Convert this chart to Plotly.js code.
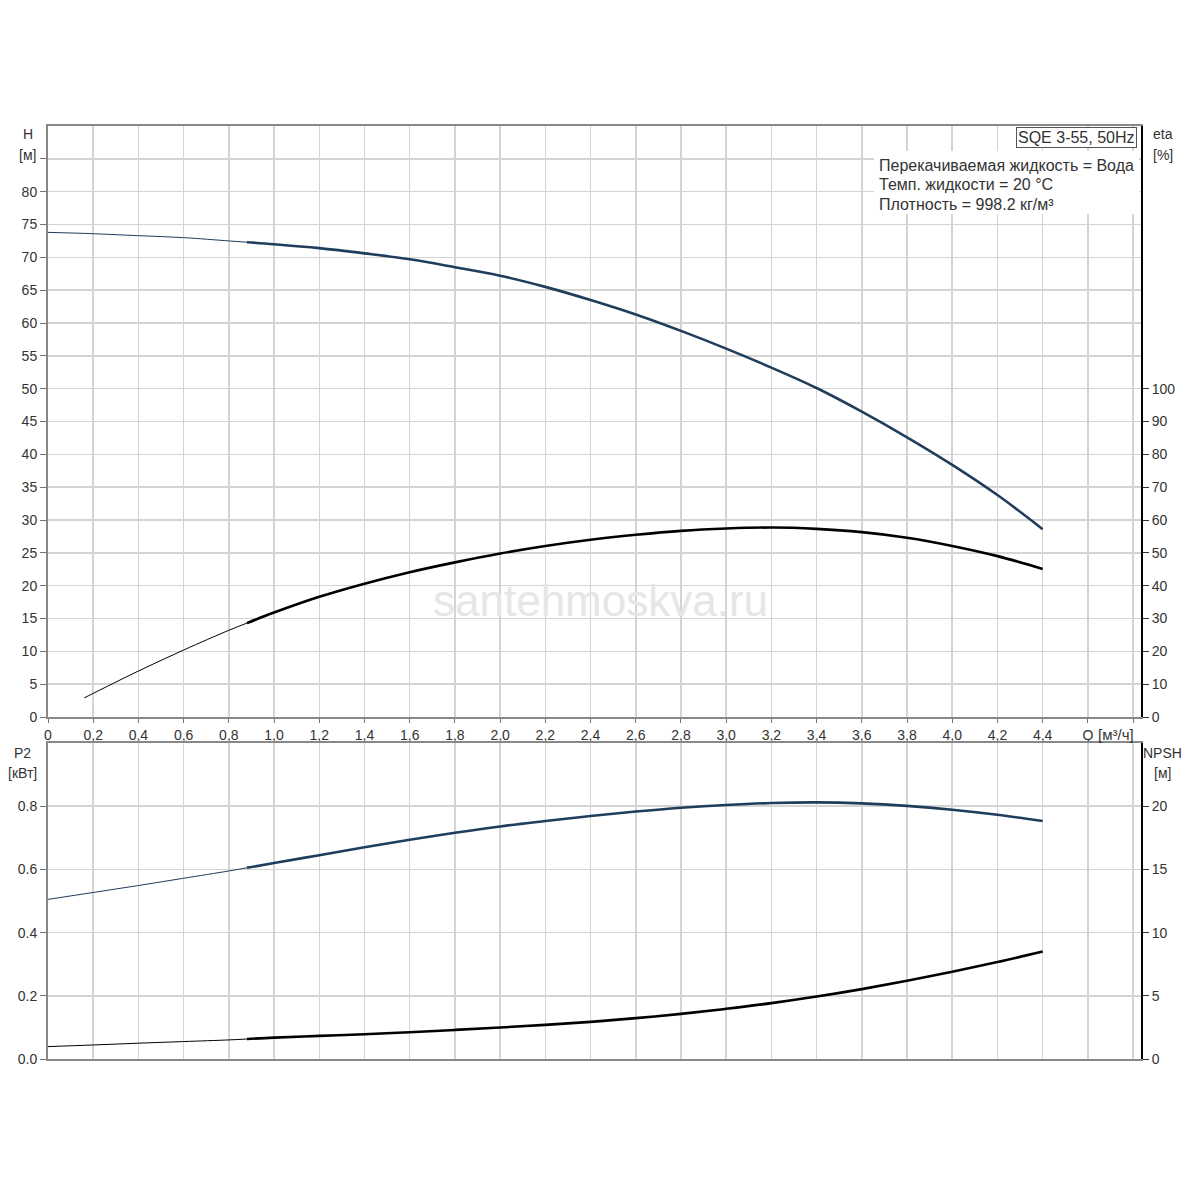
<!DOCTYPE html>
<html>
<head>
<meta charset="utf-8">
<script src="https://cdn.plot.ly/plotly-3.0.1.min.js"></script>
<style>html,body{margin:0;padding:0;background:#fff;}#chart{width:1200px;height:1200px;}</style>
</head>
<body>
<div id="chart"></div>
<script>
// Flow Q [m3/h]
const q = [0, 0.2, 0.4, 0.6, 0.8, 0.88, 1.0, 1.2, 1.4, 1.6, 1.8, 2.0, 2.2, 2.4, 2.6, 2.8, 3.0, 3.2, 3.4, 3.6, 3.8, 4.0, 4.2, 4.4];
// Head H [m]
const headH = [73.8, 73.6, 73.3, 73.0, 72.5, 72.3, 72.0, 71.4, 70.6, 69.7, 68.5, 67.2, 65.5, 63.5, 61.3, 58.8, 56.1, 53.2, 50.1, 46.5, 42.6, 38.4, 33.8, 28.6];
// Efficiency eta [%]
const qEta = [0.16, 0.2, 0.4, 0.6, 0.8, 0.88, 1.0, 1.2, 1.4, 1.6, 1.8, 2.0, 2.2, 2.4, 2.6, 2.8, 3.0, 3.2, 3.4, 3.6, 3.8, 4.0, 4.2, 4.4];
const eta = [5.8, 7.2, 14.0, 20.4, 26.4, 28.6, 31.8, 36.6, 40.6, 44.1, 47.1, 49.8, 52.1, 54.0, 55.5, 56.7, 57.4, 57.7, 57.3, 56.3, 54.6, 52.1, 49.0, 45.1];
// Power P2 [kW]
const p2 = [0.505, 0.527, 0.549, 0.572, 0.595, 0.605, 0.620, 0.645, 0.670, 0.694, 0.716, 0.736, 0.753, 0.769, 0.783, 0.795, 0.804, 0.810, 0.812, 0.809, 0.801, 0.789, 0.773, 0.753];
// NPSH [m]
const npsh = [0.98, 1.11, 1.25, 1.38, 1.51, 1.58, 1.69, 1.83, 1.96, 2.12, 2.30, 2.49, 2.70, 2.94, 3.23, 3.57, 3.97, 4.42, 4.94, 5.53, 6.19, 6.90, 7.67, 8.50];
// Start of the duty (thick) range
const qSplit = 0.88;

// Tick labels
const xTickVals = [0,0.2,0.4,0.6,0.8,1.0,1.2,1.4,1.6,1.8,2.0,2.2,2.4,2.6,2.8,3.0,3.2,3.4,3.6,3.8,4.0,4.2,4.4,4.6,4.8];
const xTickText = ["0","0,2","0,4","0,6","0,8","1,0","1,2","1,4","1,6","1,8","2,0","2,2","2,4","2,6","2,8","3,0","3,2","3,4","3,6","3,8","4,0","4,2","4,4","Q",""];
const xUnit = "[м³/ч]";
const hTickVals = [0,5,10,15,20,25,30,35,40,45,50,55,60,65,70,75,80,85];
const hTickText = ["0","5","10","15","20","25","30","35","40","45","50","55","60","65","70","75","80",""];
const etaTickVals = [0,10,20,30,40,50,60,70,80,90,100];
const p2TickVals = [0,0.2,0.4,0.6,0.8];
const p2TickText = ["0.0","0.2","0.4","0.6","0.8"];
const npshTickVals = [0,5,10,15,20];

const infoTitle = "SQE 3-55, 50Hz";
const infoLines = ["Перекачиваемая жидкость = Вода", "Темп. жидкости = 20 °C", "Плотность = 998.2 кг/м³"];
const watermark = "santehmoskva.ru";

function split(xs, ys) {
  const thin = {x: [], y: []}, thick = {x: [], y: []};
  xs.forEach((v, i) => {
    if (v <= qSplit) { thin.x.push(v); thin.y.push(ys[i]); }
    if (v >= qSplit) { thick.x.push(v); thick.y.push(ys[i]); }
  });
  return [thin, thick];
}

const blue = "#1f3d5c";
const black = "#000000";
function pair(xs, ys, color, xa, ya) {
  const [thin, thick] = split(xs, ys);
  return [
    {x: thin.x, y: thin.y, xaxis: xa, yaxis: ya, mode: "lines", line: {color: color, width: 1, shape: "spline", smoothing: 1}, hoverinfo: "skip"},
    {x: thick.x, y: thick.y, xaxis: xa, yaxis: ya, mode: "lines", line: {color: color, width: 2.6, shape: "spline", smoothing: 1}, hoverinfo: "skip"}
  ];
}

const traces = [].concat(
  pair(q, headH, blue, "x", "y"),
  pair(qEta, eta, black, "x", "y2"),
  pair(q, p2, blue, "x2", "y3"),
  pair(q, npsh, black, "x2", "y4")
);

const L = 48, R = 1141, T = 126, B = 1059;
const px = p => (p - L) / (R - L);
const py = p => (B - p) / (B - T);

const FAM = "Liberation Sans, Arial, sans-serif";
const font = {family: FAM, size: 14, color: "#333"};
const infoFont = {family: FAM, size: 16, color: "#333"};
const gridColor = "#d4d4d4";
const XR = [0, 4.835];

function ann(text, x, y, opts) {
  return Object.assign({text: text, x: px(x), y: py(y), xref: "paper", yref: "paper", showarrow: false, xanchor: "center", yanchor: "middle", font: font}, opts || {});
}

const annotations = [
  ann("H", 28, 134), ann("[м]", 27, 155),
  ann("eta", 1163, 134), ann("[%]", 1163, 155),
  ann("P2", 22, 753), ann("[кВт]", 22, 773),
  ann("NPSH", 1162, 753), ann("[м]", 1162, 773),
  ann(xUnit, 1096, 735, {xanchor: "left", font: {family: FAM, size: 15, color: "#333"}}),
  ann(infoTitle, 1137, 127, {xanchor: "right", yanchor: "top", bgcolor: "#fff", bordercolor: "#555", borderwidth: 1, borderpad: 1, font: infoFont}),
  ann(infoLines[0], 877, 166, {xanchor: "left", font: infoFont}),
  ann(infoLines[1], 877, 185, {xanchor: "left", font: infoFont}),
  ann(infoLines[2], 877, 204, {xanchor: "left", font: infoFont}),
  ann(watermark, 600, 600, {font: {family: FAM, size: 44, color: "#e6e6e6"}})
];

const shapes = [
  {type: "rect", xref: "paper", yref: "paper", x0: px(874), x1: px(1139), y0: py(214), y1: py(151), fillcolor: "#fff", line: {width: 0}, layer: "above"}
];

const layout = {
  width: 1200, height: 1200,
  margin: {l: L, r: 1200 - R, t: T, b: 1200 - B, pad: 0},
  paper_bgcolor: "#fff", plot_bgcolor: "#fff",
  showlegend: false,
  font: font,
  xaxis: {domain: [0, 1], anchor: "y", range: XR, tickmode: "array", tickvals: xTickVals, ticktext: xTickText,
    showgrid: true, gridcolor: gridColor, gridwidth: 1.5, zeroline: false, ticks: "outside", ticklen: 4, tickcolor: "#777",
    showline: true, linecolor: "#888", linewidth: 2, mirror: true, tickfont: font},
  yaxis: {domain: [py(717), 1], anchor: "x", range: [0, 90], tickmode: "array", tickvals: hTickVals, ticktext: hTickText,
    showgrid: true, gridcolor: gridColor, gridwidth: 1.5, zeroline: false, ticks: "outside", ticklen: 6, tickcolor: "#777",
    showline: true, linecolor: "#888", linewidth: 2, tickfont: font},
  yaxis2: {overlaying: "y", side: "right", anchor: "x", range: [0, 180], tickmode: "array", tickvals: etaTickVals,
    showgrid: false, zeroline: false, ticks: "outside", ticklen: 6, tickcolor: "#333",
    showline: true, linecolor: "#000", linewidth: 2, tickfont: font},
  xaxis2: {domain: [0, 1], anchor: "y3", range: XR, tickmode: "array", tickvals: xTickVals, showticklabels: false,
    showgrid: true, gridcolor: gridColor, gridwidth: 1.5, zeroline: false, ticks: "",
    showline: true, linecolor: "#888", linewidth: 2, mirror: true},
  yaxis3: {domain: [0, py(743)], anchor: "x2", range: [0, 1.0], tickmode: "array", tickvals: p2TickVals, ticktext: p2TickText,
    showgrid: true, gridcolor: gridColor, gridwidth: 1.5, zeroline: false, ticks: "outside", ticklen: 6, tickcolor: "#777",
    showline: true, linecolor: "#888", linewidth: 2, tickfont: font},
  yaxis4: {overlaying: "y3", side: "right", anchor: "x2", range: [0, 25], tickmode: "array", tickvals: npshTickVals,
    showgrid: false, zeroline: false, ticks: "outside", ticklen: 6, tickcolor: "#333",
    showline: true, linecolor: "#000", linewidth: 2, tickfont: font},
  annotations: annotations,
  shapes: shapes
};

Plotly.newPlot("chart", traces, layout, {staticPlot: true, displayModeBar: false});
</script>
</body>
</html>
